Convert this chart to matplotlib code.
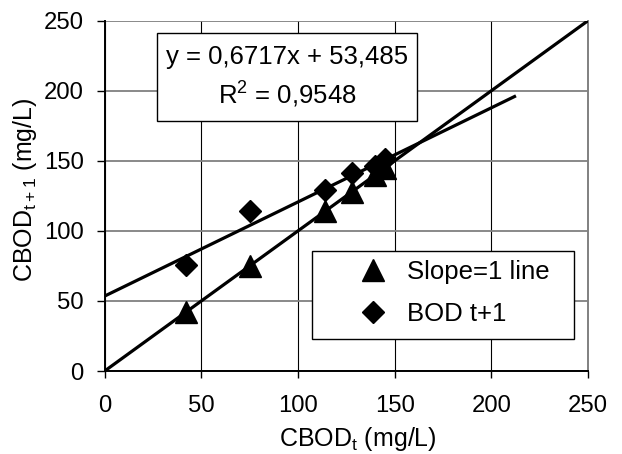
import matplotlib
matplotlib.use("Agg")
import matplotlib.pyplot as plt
from matplotlib.patches import Rectangle
import numpy as np

plt.rcParams["font.family"] = ["Liberation Sans", "DejaVu Sans"]
plt.rcParams["mathtext.fontset"] = "custom"
plt.rcParams["mathtext.rm"] = "Liberation Sans"
plt.rcParams["mathtext.default"] = "regular"

# CBOD at day t and the following day t+1 (mg/L)
cbod_t = [42, 75, 114, 128, 140, 145]
slope1_y = [42, 75, 114, 128, 140, 145]
bod_t1 = [76, 114, 129, 141, 146, 151]

# Linear trendline of BOD t+1 against CBOD t
fit_slope = 0.6717
fit_intercept = 53.485
fit_r2 = 0.9548
fit_x_end = 212
identity_x_end = 250

ticks = [0, 50, 100, 150, 200, 250]

fig = plt.figure(figsize=(6.22, 4.54), dpi=100)
ax = fig.add_axes([0.1683, 0.1828, 0.7770, 0.7716])

ax.set_xlim(0, 250)
ax.set_ylim(0, 250)
ax.set_xticks(ticks)
ax.set_yticks(ticks)
ax.tick_params(axis="both", labelsize=17.2, direction="out", color="black",
               width=1.0)
ax.tick_params(axis="y", length=6, pad=9)
ax.tick_params(axis="x", length=5, pad=12)

# grid: black verticals, grey horizontals
ax.set_axisbelow(True)
ax.xaxis.grid(True, color="black", lw=0.8)
ax.yaxis.grid(True, color="#808080", lw=1.3)

for side in ("left", "bottom"):
    ax.spines[side].set_color("black")
    ax.spines[side].set_linewidth(1.4)
ax.spines["right"].set_color("#808080")
ax.spines["right"].set_linewidth(1.4)
ax.spines["top"].set_visible(False)

# trend lines
xi = np.array([0, identity_x_end])
ax.plot(xi, xi, color="black", lw=2.3, zorder=3)
xf = np.array([0, fit_x_end])
ax.plot(xf, fit_slope * xf + fit_intercept, color="black", lw=2.3, zorder=3)

# data points
ax.plot(cbod_t, slope1_y, linestyle="none", marker="^", ms=15.5,
        color="black", label="Slope=1 line", zorder=4)
ax.plot(cbod_t, bod_t1, linestyle="none", marker="D", ms=11,
        color="black", label="BOD t+1", zorder=4)

ax.set_xlabel(r"CBOD$_{\mathregular{t}}$ (mg/L)", fontsize=18)
ax.set_ylabel(r"CBOD$_{\mathregular{t+1}}$ (mg/L)", fontsize=18)
ax.xaxis.set_label_coords(0.523, -0.154)
ax.yaxis.set_label_coords(-0.136, 0.517)

# legend box and entries
ax.add_patch(Rectangle((0.429, 0.0914), 0.542, 0.2512, transform=ax.transAxes,
                       facecolor="white", edgecolor="black", lw=1.0, zorder=5))
leg = ax.legend(loc="upper left", bbox_to_anchor=(0.528, 0.3163),
                borderaxespad=0, borderpad=0, frameon=False,
                handlelength=1.0, handletextpad=0.82, labelspacing=0.70,
                fontsize=18.5)
leg.set_zorder(6)

# equation box
ax.add_patch(Rectangle((0.1076, 0.7130), 0.538, 0.2522, transform=ax.transAxes,
                       facecolor="white", edgecolor="black", lw=1.0, zorder=5))


def comma(v):
    return f"{v}".replace(".", ",")


ax.text(0.3770, 0.8972, f"y = {comma(fit_slope)}x + {comma(fit_intercept)}",
        transform=ax.transAxes, ha="center", va="center", fontsize=18.5,
        zorder=6)
ax.text(0.3770, 0.7879, r"R$^{\mathregular{2}}$ = " + comma(fit_r2),
        transform=ax.transAxes, ha="center", va="center", fontsize=18.5,
        zorder=6)

fig.savefig("out.png", dpi=100)
